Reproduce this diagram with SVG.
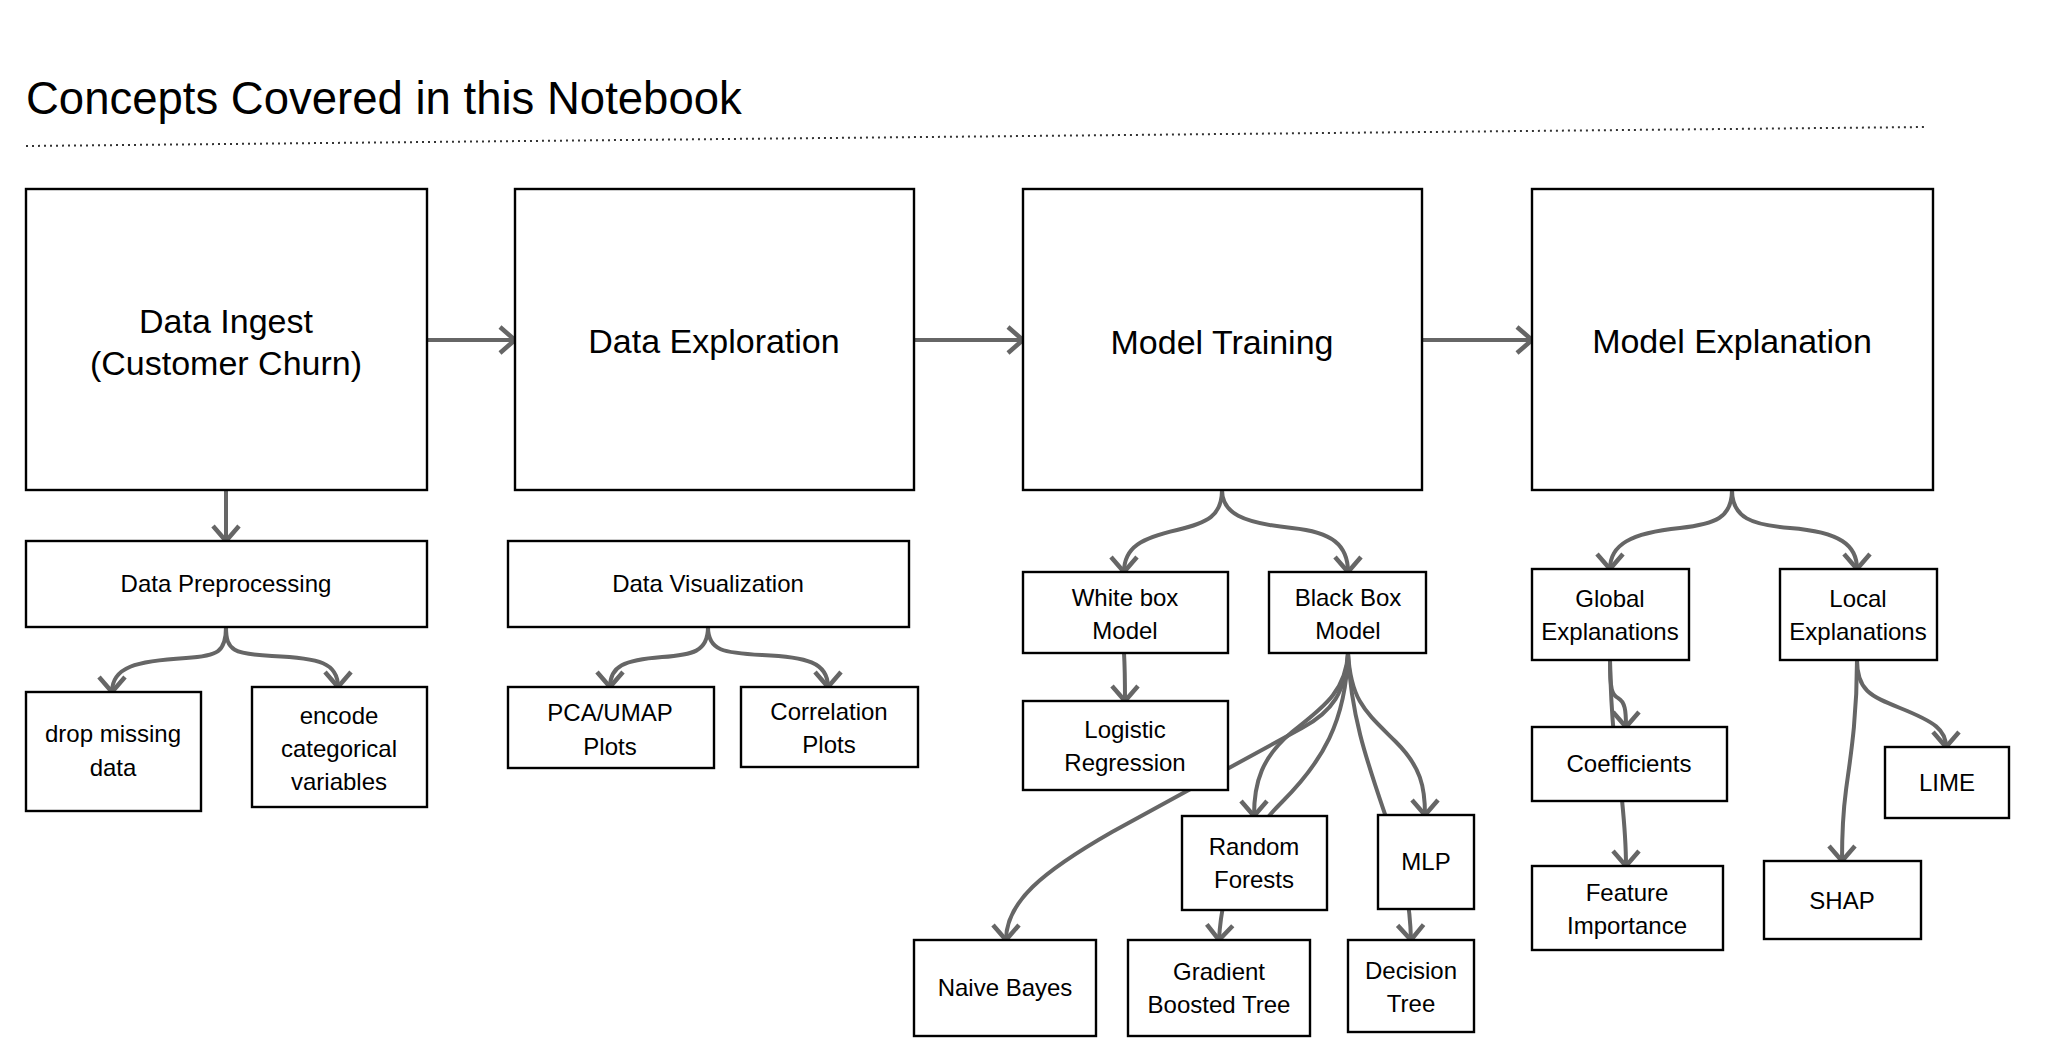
<svg xmlns="http://www.w3.org/2000/svg" width="2048" height="1064" viewBox="0 0 2048 1064">
<style>
.bg{fill:#ffffff}
.box{fill:#ffffff;stroke:#000000;stroke-width:2.4}
.t{font-family:"Liberation Sans",Arial,sans-serif;fill:#000000;text-anchor:middle}
.big{font-size:34px}
.sm{font-size:24px}
.title{font-family:"Liberation Sans",Arial,sans-serif;font-size:45.5px;fill:#000000}
.c{fill:none;stroke:#666666;stroke-width:4}
.dots{fill:none;stroke:#333333;stroke-width:2;stroke-dasharray:2 4}
</style>
<defs>
<marker id="arr" markerUnits="userSpaceOnUse" markerWidth="30" markerHeight="30" viewBox="0 0 30 30" refX="20" refY="15" orient="auto" overflow="visible">
<path d="M5,2 L20,15 L5,28" fill="none" stroke="#666666" stroke-width="4.5"/>
</marker>
</defs>
<rect class="bg" x="0" y="0" width="2048" height="1064"/>
<g id="title">
<text class="title" x="26" y="114">Concepts Covered in this Notebook</text>
<line class="dots" x1="26" y1="146" x2="1926" y2="127"/>
</g>
<g id="connectors">
<path class="c" marker-end="url(#arr)" d="M427,340 L515,340"/>
<path class="c" marker-end="url(#arr)" d="M914,340 L1023,340"/>
<path class="c" marker-end="url(#arr)" d="M1422,340 L1532,340"/>
<path class="c" marker-end="url(#arr)" d="M226,490 L226,541"/>
<path class="c" marker-end="url(#arr)" d="M226,627 C226,652 218,656 186,658 C136,661 112,667 112,692"/>
<path class="c" marker-end="url(#arr)" d="M226,627 C226,651 234,654 272,656 C320,658 338,663 338,687"/>
<path class="c" marker-end="url(#arr)" d="M708,627 C708,652 692,655 662,657 C624,660 610,666 610,687"/>
<path class="c" marker-end="url(#arr)" d="M708,627 C708,651 724,653 762,655 C806,657 828,662 828,687"/>
<path class="c" marker-end="url(#arr)" d="M1222,490 C1222,516 1207,523 1177,530 C1142,538 1124,547 1124,572"/>
<path class="c" marker-end="url(#arr)" d="M1222,490 C1222,513 1242,523 1292,528 C1332,532 1348,545 1348,572"/>
<path class="c" marker-end="url(#arr)" d="M1124,653 C1125,670 1125,685 1125,701"/>
<path class="c" marker-end="url(#arr)" d="M1348,653 C1346,692 1332,712 1302,728 L1112,832 C1042,872 1006,902 1006,940"/>
<path class="c" marker-end="url(#arr)" d="M1348,653 C1346,692 1322,708 1292,732 C1262,757 1254,782 1254,816"/>
<path class="c" marker-end="url(#arr)" d="M1348,653 C1346,722 1322,762 1282,802 C1242,842 1222,882 1219,940"/>
<path class="c" marker-end="url(#arr)" d="M1348,653 C1351,702 1366,712 1396,742 C1421,767 1425,787 1425,815"/>
<path class="c" marker-end="url(#arr)" d="M1348,653 C1351,722 1371,772 1391,832 C1405,875 1410,905 1411,940"/>
<path class="c" marker-end="url(#arr)" d="M1732,490 C1732,518 1715,524 1680,528 C1630,533 1610,545 1610,569"/>
<path class="c" marker-end="url(#arr)" d="M1732,490 C1732,518 1752,525 1790,528 C1840,532 1857,545 1857,569"/>
<path class="c" marker-end="url(#arr)" d="M1610,660 C1610,690 1612,695 1618,698 C1625,702 1626,710 1626,727"/>
<path class="c" marker-end="url(#arr)" d="M1610,660 C1611,720 1616,760 1622,800 C1625,830 1626,845 1626,866"/>
<path class="c" marker-end="url(#arr)" d="M1857,660 C1857,720 1850,760 1846,790 C1842,820 1842,840 1842,861"/>
<path class="c" marker-end="url(#arr)" d="M1857,660 C1857,690 1870,696 1900,708 C1935,722 1946,730 1946,747"/>
</g>
<g id="data-ingest">
<rect class="box" x="26" y="189" width="401" height="301"/>
<text class="t big" x="226" y="333">Data Ingest</text>
<text class="t big" x="226" y="375">(Customer Churn)</text>
</g>
<g id="data-exploration">
<rect class="box" x="515" y="189" width="399" height="301"/>
<text class="t big" x="714" y="353">Data Exploration</text>
</g>
<g id="model-training">
<rect class="box" x="1023" y="189" width="399" height="301"/>
<text class="t big" x="1222" y="354">Model Training</text>
</g>
<g id="model-explanation">
<rect class="box" x="1532" y="189" width="401" height="301"/>
<text class="t big" x="1732" y="353">Model Explanation</text>
</g>
<g id="data-preprocessing">
<rect class="box" x="26" y="541" width="401" height="86"/>
<text class="t sm" x="226" y="592">Data Preprocessing</text>
</g>
<g id="data-visualization">
<rect class="box" x="508" y="541" width="401" height="86"/>
<text class="t sm" x="708" y="592">Data Visualization</text>
</g>
<g id="drop-missing">
<rect class="box" x="26" y="692" width="175" height="119"/>
<text class="t sm" x="113" y="742">drop missing</text>
<text class="t sm" x="113" y="776">data</text>
</g>
<g id="encode">
<rect class="box" x="252" y="687" width="175" height="120"/>
<text class="t sm" x="339" y="724">encode</text>
<text class="t sm" x="339" y="757">categorical</text>
<text class="t sm" x="339" y="790">variables</text>
</g>
<g id="pca-umap">
<rect class="box" x="508" y="687" width="206" height="81"/>
<text class="t sm" x="610" y="721">PCA/UMAP</text>
<text class="t sm" x="610" y="755">Plots</text>
</g>
<g id="correlation">
<rect class="box" x="741" y="687" width="177" height="80"/>
<text class="t sm" x="829" y="720">Correlation</text>
<text class="t sm" x="829" y="753">Plots</text>
</g>
<g id="white-box">
<rect class="box" x="1023" y="572" width="205" height="81"/>
<text class="t sm" x="1125" y="606">White box</text>
<text class="t sm" x="1125" y="639">Model</text>
</g>
<g id="black-box">
<rect class="box" x="1269" y="572" width="157" height="81"/>
<text class="t sm" x="1348" y="606">Black Box</text>
<text class="t sm" x="1348" y="639">Model</text>
</g>
<g id="logistic">
<rect class="box" x="1023" y="701" width="205" height="89"/>
<text class="t sm" x="1125" y="738">Logistic</text>
<text class="t sm" x="1125" y="771">Regression</text>
</g>
<g id="random-forests">
<rect class="box" x="1182" y="816" width="145" height="94"/>
<text class="t sm" x="1254" y="855">Random</text>
<text class="t sm" x="1254" y="888">Forests</text>
</g>
<g id="mlp">
<rect class="box" x="1378" y="815" width="96" height="94"/>
<text class="t sm" x="1426" y="870">MLP</text>
</g>
<g id="naive-bayes">
<rect class="box" x="914" y="940" width="182" height="96"/>
<text class="t sm" x="1005" y="996">Naive Bayes</text>
</g>
<g id="gradient-boosted">
<rect class="box" x="1128" y="940" width="182" height="96"/>
<text class="t sm" x="1219" y="980">Gradient</text>
<text class="t sm" x="1219" y="1013">Boosted Tree</text>
</g>
<g id="decision-tree">
<rect class="box" x="1348" y="940" width="126" height="92"/>
<text class="t sm" x="1411" y="979">Decision</text>
<text class="t sm" x="1411" y="1012">Tree</text>
</g>
<g id="global-explanations">
<rect class="box" x="1532" y="569" width="157" height="91"/>
<text class="t sm" x="1610" y="607">Global</text>
<text class="t sm" x="1610" y="640">Explanations</text>
</g>
<g id="local-explanations">
<rect class="box" x="1780" y="569" width="157" height="91"/>
<text class="t sm" x="1858" y="607">Local</text>
<text class="t sm" x="1858" y="640">Explanations</text>
</g>
<g id="coefficients">
<rect class="box" x="1532" y="727" width="195" height="74"/>
<text class="t sm" x="1629" y="772">Coefficients</text>
</g>
<g id="feature-importance">
<rect class="box" x="1532" y="866" width="191" height="84"/>
<text class="t sm" x="1627" y="901">Feature</text>
<text class="t sm" x="1627" y="934">Importance</text>
</g>
<g id="lime">
<rect class="box" x="1885" y="747" width="124" height="71"/>
<text class="t sm" x="1947" y="791">LIME</text>
</g>
<g id="shap">
<rect class="box" x="1764" y="861" width="157" height="78"/>
<text class="t sm" x="1842" y="909">SHAP</text>
</g>
</svg>
